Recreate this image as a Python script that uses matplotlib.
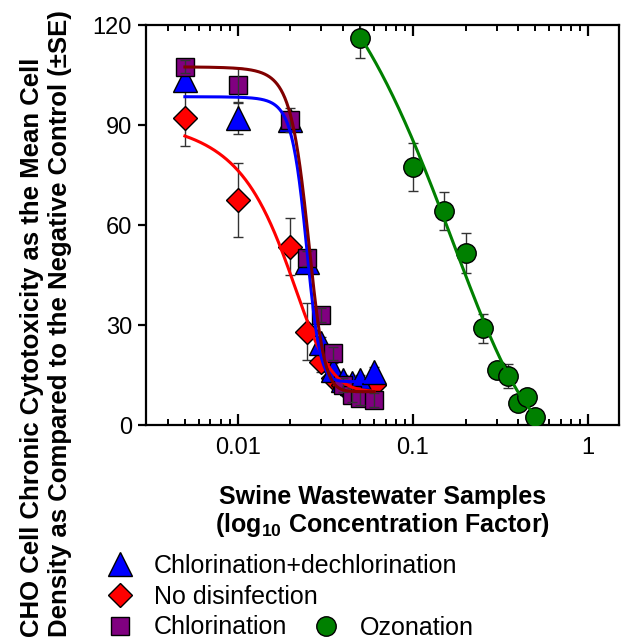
import numpy as np
import matplotlib
matplotlib.use('Agg')
from matplotlib import pyplot as plt
from matplotlib.lines import Line2D
from matplotlib.ticker import LogLocator, FixedLocator, NullFormatter, FixedFormatter


def plot_params():
    plt.rc('font', family='Liberation Sans', size=17)
    plt.rc('xtick', labelsize=17)
    plt.rc('ytick', labelsize=17)
    plt.rc('axes', linewidth=1.6)
    plt.rcParams['mathtext.fontset'] = 'custom'
    plt.rcParams['mathtext.rm'] = 'Liberation Sans'
    plt.rcParams['mathtext.bf'] = 'Liberation Sans:bold'

plot_params()

# concentration factors (log10 scale on the plot)
conc_chl = [0.005, 0.01, 0.02, 0.025, 0.03, 0.035, 0.04, 0.045, 0.05, 0.06]
conc_ozo = [0.05, 0.1, 0.15, 0.2, 0.25, 0.3, 0.35, 0.4, 0.45, 0.5]

# mean cell density (% of negative control) and SE
dechlor_y = [103.5, 92, 91.5, 49, 24.5, 16.5, 13.5, 12.5, 13.5, 16]
dechlor_se = [3, 4.6, 2, 2, 2, 2, 1.5, 1.5, 1.5, 1.5]
nodis_y = [92, 67.5, 53.5, 28, 19, 14, 12, 11, 11, 12]
nodis_se = [8.2, 11.2, 8.5, 8.5, 3, 2, 2, 1.5, 1.5, 1.5]
chlor_y = [107.5, 102, 91.5, 50, 33, 21.5, 12, 9, 8, 7.5]
chlor_se = [2, 5, 3.7, 2.3, 2, 2, 2, 2, 2, 2]
ozo_y = [116, 77.5, 64.2, 51.6, 29, 16.5, 14.7, 6.6, 8.4, 2.4]
ozo_se = [6, 7.2, 5.8, 6, 4.3, 1.5, 3.5, 1.5, 1.5, 2]

# sigmoid fits  y = y0 + a / (1 + exp((x - x0) / b))
fit_dechlor = dict(y0=13, a=85.5, x0=0.0245, b=1 / 430)
fit_nodis = dict(y0=10, a=89, x0=0.0172, b=1 / 150)
fit_chlor = dict(y0=10, a=97.5, x0=0.025, b=1 / 350)
# exponential decay fit  y = y0 + a * exp(-k * x)
fit_ozo = dict(y0=-6, a=164.3, k=5.864)


def sigmoid(x, y0, a, x0, b):
    return y0 + a / (1 + np.exp((x - x0) / b))


def expdecay(x, y0, a, k):
    return y0 + a * np.exp(-k * x)


fig = plt.figure(figsize=(6.21, 6.44), dpi=100)
ax = fig.add_axes([146 / 621, 219 / 644, 473 / 621, 400 / 644])

xs = np.logspace(np.log10(0.005), np.log10(0.06), 300)
xo = np.logspace(np.log10(0.05), np.log10(0.5), 300)

ebar = dict(fmt='none', ecolor='#333333', elinewidth=1.0, capsize=3.5, capthick=1.0)

ax.errorbar(conc_chl, nodis_y, yerr=nodis_se, zorder=2, **ebar)
ax.errorbar(conc_chl, dechlor_y, yerr=dechlor_se, zorder=2, **ebar)
ax.errorbar(conc_ozo, ozo_y, yerr=ozo_se, zorder=2, **ebar)

ax.plot(conc_chl, nodis_y, 'D', ms=12.5, mfc='#FF0000', mec='black', mew=1, zorder=3)
ax.plot(conc_chl, dechlor_y, '^', ms=17, mfc='#0000FF', mec='black', mew=1, zorder=3.1)
ax.plot(conc_chl, chlor_y, 's', ms=13, mfc='#800080', mec='black', mew=1, zorder=3.2)
ax.plot(conc_ozo, ozo_y, 'o', ms=14, mfc='#008000', mec='black', mew=1, zorder=3)

ax.errorbar(conc_chl, chlor_y, yerr=chlor_se, zorder=3.5, **ebar)

ax.plot(xs, sigmoid(xs, **fit_nodis), color='#FF0000', lw=2.2, zorder=5)
ax.plot(xs, sigmoid(xs, **fit_dechlor), color='#0000FF', lw=2.2, zorder=5)
ax.plot(xs, sigmoid(xs, **fit_chlor), color='#800000', lw=2.2, zorder=5)
ax.plot(xo, expdecay(xo, **fit_ozo), color='#008000', lw=2.2, zorder=5)

ax.set_xscale('log')
ax.set_xlim(0.003, 1.5)
ax.set_ylim(0, 120)
ax.xaxis.set_major_locator(FixedLocator([0.01, 0.1, 1]))
ax.xaxis.set_major_formatter(FixedFormatter(['0.01', '0.1', '1']))
ax.xaxis.set_minor_locator(LogLocator(base=10, subs=np.arange(2, 10)))
ax.xaxis.set_minor_formatter(NullFormatter())
ax.set_yticks([0, 30, 60, 90, 120])

ax.tick_params(axis='x', which='major', direction='in', top=True, length=8, width=1.6, pad=9)
ax.tick_params(axis='x', which='minor', direction='in', top=True, length=4, width=1.4)
ax.tick_params(axis='y', which='major', direction='out', right=False, length=6, width=1.6, pad=4)

fig.text(383 / 621, 1 - 512 / 644,
         'Swine Wastewater Samples\n(log$_{\\mathbf{10}}$ Concentration Factor)',
         ha='center', va='center', fontsize=18, fontweight='bold', linespacing=1.1)

# rotated two-line label, lines start at the same height
fig.text(46 / 621, 1 - 637 / 644,
         'CHO Cell Chronic Cytotoxicity as the Mean Cell\n'
         'Density as Compared to the Negative Control (\u00b1SE)',
         ha='center', va='bottom', rotation=90, fontsize=18.5, fontweight='bold',
         linespacing=1.25, multialignment='left')

h_dechlor = Line2D([], [], ls='none', marker='^', ms=17, mfc='#0000FF', mec='black')
h_nodis = Line2D([], [], ls='none', marker='D', ms=12.5, mfc='#FF0000', mec='black')
h_chlor = Line2D([], [], ls='none', marker='s', ms=13, mfc='#800080', mec='black')
h_ozo = Line2D([], [], ls='none', marker='o', ms=14, mfc='#008000', mec='black')

fig.legend([h_dechlor, h_nodis, h_chlor],
           ['Chlorination+dechlorination', 'No disinfection', 'Chlorination'],
           loc='upper left', bbox_to_anchor=(107.5 / 621, 1 - 554 / 644), frameon=False,
           fontsize=18, handlelength=1.0, handletextpad=0.86, labelspacing=0.27,
           borderpad=0, borderaxespad=0)
fig.legend([h_ozo], ['Ozonation'],
           loc='upper left', bbox_to_anchor=(313.5 / 621, 1 - 616 / 644), frameon=False,
           fontsize=18, handlelength=1.0, handletextpad=0.86,
           borderpad=0, borderaxespad=0)

plt.savefig('out.png', dpi=100)
